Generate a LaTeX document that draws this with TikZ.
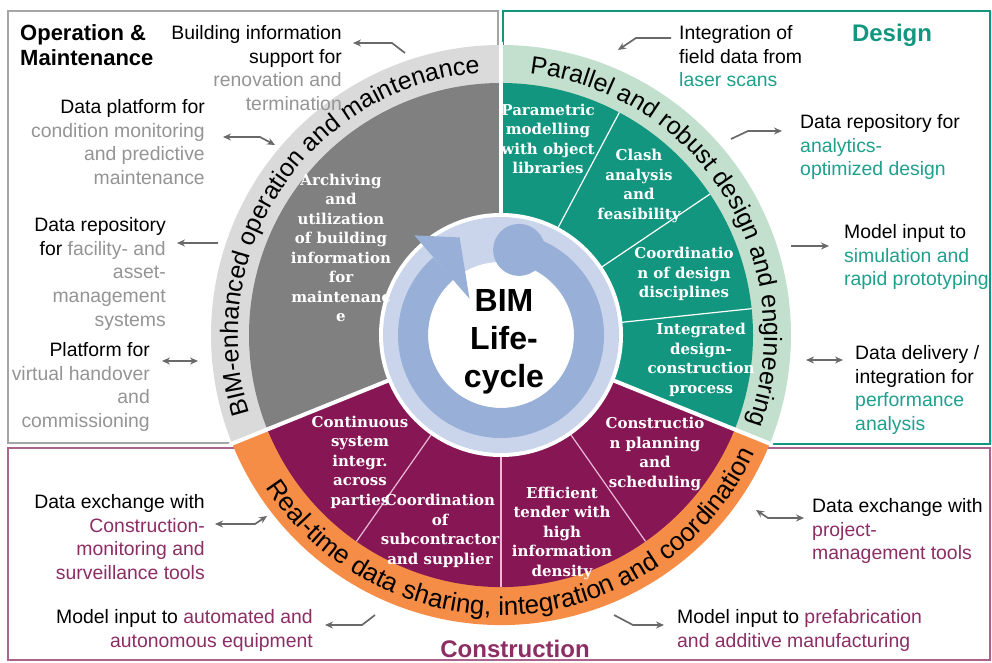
\documentclass[tikz,border=0pt]{standalone}
\usepackage[rgb]{xcolor}
\usepackage{fontspec}
\setmainfont{Liberation Sans}
\newfontfamily\secfont{DejaVu Serif}
\usepackage{tikz}
\usetikzlibrary{decorations.text,arrows.meta}

\definecolor{opgray}{RGB}{128,128,128}
\definecolor{opband}{RGB}{218,218,218}
\definecolor{optext}{RGB}{148,148,148}
\definecolor{boxgray}{RGB}{165,165,165}
\definecolor{desgreen}{RGB}{18,150,128}
\definecolor{desband}{RGB}{194,224,205}
\definecolor{destext}{RGB}{30,160,140}
\definecolor{conpurple}{RGB}{134,22,84}
\definecolor{conband}{RGB}{246,141,70}
\definecolor{context}{RGB}{140,45,100}
\definecolor{conbox}{RGB}{170,100,140}
\definecolor{conline}{RGB}{235,185,215}
\definecolor{cyclepale}{RGB}{202,213,236}
\definecolor{cycleblue}{RGB}{152,176,216}
\definecolor{arrowgray}{RGB}{105,105,105}

\newcommand\bandfont{\fontsize{25}{25}\selectfont}

\begin{document}
\begin{tikzpicture}[x=1pt,y=1pt,
    lbl/.style={font=\fontsize{19.4}{23.8}\selectfont, inner sep=0pt},
    ttl/.style={font=\bfseries\fontsize{22}{25}\selectfont, inner sep=0pt},
    sec/.style={font=\secfont\bfseries\fontsize{15}{19.5}\selectfont, text=white, align=center, inner sep=0pt},
    conn/.style={arrowgray, line width=1.7pt, -{Stealth[length=8pt,width=7pt]}},
    both/.style={conn, {Stealth[length=8pt,width=7pt]}-{Stealth[length=8pt,width=7pt]}}]
  \useasboundingbox (0,0) rectangle (992,-663);
  % boxes
  \draw[boxgray, line width=2pt] (8,-11) rectangle (498,-443);
  \draw[desgreen, line width=2pt] (503,-11) rectangle (990,-444);
  \draw[conbox, line width=2pt] (8,-448) rectangle (990,-660);

  \begin{scope}[shift={(501,-335)}]
    \fill[opband] (0,0) -- (90:290) arc (90:202:290) -- cycle;
    \fill[conband] (0,0) -- (202:290) arc (202:338:290) -- cycle;
    \fill[desband] (0,0) -- (-22:290) arc (-22:90:290) -- cycle;
    \fill[opgray] (0,0) -- (90:252) arc (90:202:252) -- cycle;
    \fill[conpurple] (0,0) -- (202:252) arc (202:338:252) -- cycle;
    \fill[desgreen] (0,0) -- (-22:252) arc (-22:90:252) -- cycle;
    \foreach \a in {62,34,6}
      \draw[white, line width=1.2pt] (0,0) -- (\a:252);
    \foreach \a in {235,270,305}
      \draw[conline, line width=1.2pt] (0,0) -- (\a:252);
    \foreach \a in {90,202,338}
      \draw[white, line width=4pt] (0,0) -- (\a:293);
    % life cycle
    \fill[white] (0,0) circle (122);
    \fill[cyclepale] (0,0) circle (118);
    \fill[white] (0,0) circle (73);
    \draw[cycleblue, line width=30pt] (78:88) arc (78:-229:88);
    \fill[cycleblue] (78:87) circle (26);
    \fill[cycleblue] (131:48) -- (131:132) -- (113:106) -- cycle;
    % band texts
    \path[decorate, decoration={text along path, text align=center,
      text={|\bandfont|BIM-enhanced operation and maintenance}}] (206:263) arc (206:86:263);
    \path[decorate, decoration={text along path, text align=center,
      text={|\bandfont|Parallel and robust design and engineering}}] (88:263) arc (88:-24:263);
    \path[decorate, decoration={text along path, text align=center,
      text={|\fontsize{26}{26}\selectfont|Real-time data sharing, integration and coordination}}] (205:280) arc (205:343:280);
  \end{scope}

  \node[font=\bfseries\fontsize{32}{38}\selectfont, align=center, inner sep=0pt] (bim) at (504,-342) {BIM\\Life-\\cycle};

  % sectors
  \node[sec] (archive) at (341,-248) {Archiving\\and\\utilization\\of building\\information\\for\\maintenanc\\e};
  \node[sec] (param) at (548,-139) {Parametric\\modelling\\with object\\libraries};
  \node[sec] (clash) at (639,-186) {Clash\\analysis\\and\\feasibility};
  \node[sec] (coord) at (684,-274) {Coordinatio\\n of design\\disciplines};
  \node[sec] (integ) at (701,-360) {Integrated\\design-\\construction\\process};
  \node[sec] (contin) at (360,-462) {Continuous\\system\\integr.\\across\\parties};
  \node[sec] (subcon) at (440,-531) {Coordination\\of\\subcontractor\\and supplier};
  \node[sec] (tender) at (562,-533) {Efficient\\tender with\\high\\information\\density};
  \node[sec] (plan) at (655,-454) {Constructio\\n planning\\and\\scheduling};

  % titles
  \node[ttl, anchor=north west, align=left] (optitle) at (20,-24) {Operation \&\\Maintenance};
  \node[ttl, font=\bfseries\fontsize{24}{26}\selectfont, text=desgreen] (destitle) at (892,-35) {Design};
  \node[ttl, font=\bfseries\fontsize{24}{26}\selectfont, text=context] (contitle) at (515,-649) {Construction};

  % labels
  \node[lbl, anchor=north east, align=right] (opsupport) at (342,-25)
    {Building information\\support for\\\textcolor{optext}{renovation and}\\\textcolor{optext}{termination}};
  \node[lbl, anchor=north east, align=right] (opplatform) at (205,-99)
    {Data platform for\\\textcolor{optext}{condition monitoring}\\\textcolor{optext}{and predictive}\\\textcolor{optext}{maintenance}};
  \node[lbl, anchor=north east, align=right] (oprepo) at (166,-217)
    {Data repository\\for \textcolor{optext}{facility- and}\\\textcolor{optext}{asset-}\\\textcolor{optext}{management}\\\textcolor{optext}{systems}};
  \node[lbl, anchor=north east, align=right] (ophandover) at (150,-342)
    {Platform for\\\textcolor{optext}{virtual handover}\\\textcolor{optext}{and}\\\textcolor{optext}{commissioning}};
  \node[lbl, anchor=north west, align=left] (descan) at (679,-25)
    {Integration of\\field data from\\\textcolor{destext}{laser scans}};
  \node[lbl, anchor=north west, align=left] (desrepo) at (800,-114)
    {Data repository for\\\textcolor{destext}{analytics-}\\\textcolor{destext}{optimized design}};
  \node[lbl, anchor=north west, align=left] (dessim) at (844,-224)
    {Model input to\\\textcolor{destext}{simulation and}\\\textcolor{destext}{rapid prototyping}};
  \node[lbl, anchor=north west, align=left] (desperf) at (855,-345)
    {Data delivery /\\integration for\\\textcolor{destext}{performance}\\\textcolor{destext}{analysis}};
  \node[lbl, anchor=north east, align=right] (conmon) at (205,-494)
    {Data exchange with\\\textcolor{context}{Construction-}\\\textcolor{context}{monitoring and}\\\textcolor{context}{surveillance tools}};
  \node[lbl, anchor=north east, align=right] (conauto) at (313,-609)
    {Model input to \textcolor{context}{automated and}\\\textcolor{context}{autonomous equipment}};
  \node[lbl, anchor=north west, align=left] (conproj) at (812,-498)
    {Data exchange with\\\textcolor{context}{project-}\\\textcolor{context}{management tools}};
  \node[lbl, anchor=north west, align=left] (conprefab) at (677,-609)
    {Model input to \textcolor{context}{prefabrication}\\\textcolor{context}{and additive manufacturing}};

  % connectors
  \foreach \n/\x/\y in {a1s/405/-53, a1e/353/-43, a2s/223/-137, a2e/275/-145,
      a3s/218/-243, a3e/177/-243, a4s/162/-361, a4e/198/-361,
      a5s/671/-38, a5e/618/-50, a6s/731/-139, a6e/782/-131,
      a7s/791/-246, a7e/829/-246, a8s/806/-360, a8e/843/-360,
      a9s/215/-524, a9e/267/-516, a10s/375/-615, a10e/325/-625,
      a11s/756/-510, a11e/804/-518, a12s/614/-615, a12e/664/-625}
    \coordinate (\n) at (\x,\y);
  \draw[conn] (a1s) -- ++(-13,10) -- (a1e);
  \draw[both] (a2s) -- ++(37,0) -- (a2e);
  \draw[conn] (a3s) -- (a3e);
  \draw[both] (a4s) -- (a4e);
  \draw[conn] (a5s) -- ++(-35,0) -- (a5e);
  \draw[conn] (a6s) -- ++(17,8) -- (a6e);
  \draw[conn] (a7s) -- (a7e);
  \draw[both] (a8s) -- (a8e);
  \draw[both] (a9s) -- ++(40,0) -- (a9e);
  \draw[conn] (a10s) -- ++(-13,-10) -- (a10e);
  \draw[both] (a11s) -- ++(12,-8) -- (a11e);
  \draw[conn] (a12s) -- ++(19,-10) -- (a12e);
\end{tikzpicture}
\end{document}
